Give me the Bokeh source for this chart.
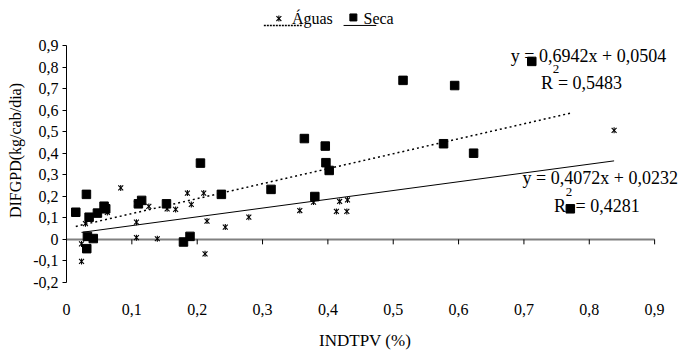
import numpy as np
from bokeh.plotting import figure
from bokeh.models import Range1d, FixedTicker, CustomJSTickFormatter, Label
from bokeh.layouts import column, row
from bokeh.core.properties import value
from bokeh.embed import file_html
from bokeh.resources import INLINE

# ---------------- data ----------------
aguas_x = [0.023, 0.023, 0.029, 0.0625, 0.083, 0.107, 0.107, 0.107, 0.126, 0.139,
           0.154, 0.167, 0.185, 0.191, 0.210, 0.212, 0.215, 0.243, 0.279, 0.357,
           0.378, 0.413, 0.418, 0.429, 0.430, 0.838]
aguas_y = [-0.102, -0.021, 0.073, 0.125, 0.239, 0.008, 0.080, 0.165, 0.153, 0.003,
           0.142, 0.139, 0.215, 0.162, 0.215, -0.067, 0.085, 0.057, 0.103, 0.134,
           0.173, 0.130, 0.176, 0.130, 0.183, 0.506]

seca_x = [0.0142, 0.0305, 0.0346, 0.0473, 0.0575, 0.060, 0.032, 0.041, 0.031, 0.110,
          0.115, 0.153, 0.179, 0.189, 0.205, 0.237, 0.313, 0.380, 0.364, 0.396,
          0.397, 0.402, 0.515, 0.594, 0.577, 0.623, 0.712, 0.771]
seca_y = [0.126, 0.209, 0.103, 0.122, 0.154, 0.142, 0.014, 0.004, -0.043, 0.165,
          0.181, 0.165, -0.012, 0.014, 0.354, 0.209, 0.232, 0.199, 0.468, 0.433,
          0.356, 0.320, 0.738, 0.714, 0.444, 0.400, 0.826, 0.142]

seca_slope, seca_intercept = 0.6942, 0.0504
aguas_slope, aguas_intercept = 0.4072, 0.0232
seca_eq = "y = 0,6942x + 0,0504"
seca_r2 = "= 0,5483"
aguas_eq = "y = 0,4072x + 0,0232"
aguas_r2 = "= 0,4281"

x_ticks = [0, 0.1, 0.2, 0.3, 0.4, 0.5, 0.6, 0.7, 0.8, 0.9]
x_tick_labels = ["0", "0,1", "0,2", "0,3", "0,4", "0,5", "0,6", "0,7", "0,8", "0,9"]
y_ticks = [-0.2, -0.1, 0, 0.1, 0.2, 0.3, 0.4, 0.5, 0.6, 0.7, 0.8, 0.9]
y_tick_labels = ["-0,2", "-0,1", "0", "0,1", "0,2", "0,3", "0,4", "0,5", "0,6", "0,7", "0,8", "0,9"]

legend_names = ["Águas", "Seca"]
x_title = "INDTPV (%)"
y_title = "DIFGPD(kg/cab/dia)"

FONT = "Liberation Serif"

fmt_code = """
let best = 0; let d = Infinity;
for (let i = 0; i < tvals.length; i++) {
  const e = Math.abs(tvals[i] - tick);
  if (e < d) { d = e; best = i; }
}
return tlabs[best];
"""


def strip(w, h):
    f = figure(width=w, height=h, x_range=Range1d(0, w), y_range=Range1d(0, h),
               toolbar_location=None, output_backend="svg",
               min_border_left=0, min_border_right=0, min_border_top=0, min_border_bottom=0)
    f.axis.visible = False
    f.grid.visible = False
    f.outline_line_color = None
    return f


# ---------------- left strip: y title ----------------
ls = strip(30, 350)
ls.text([15], [200], text=[y_title], angle=np.pi / 2, text_font=value(FONT), text_font_size="16px",
        text_baseline="middle", text_align="center", text_color="black")

# ---------------- main plot ----------------
p = figure(width=653, height=332, x_range=Range1d(0, 0.9442), y_range=Range1d(-0.2, 1.1086),
           toolbar_location=None, output_backend="svg",
           min_border_left=34, min_border_right=0, min_border_top=0, min_border_bottom=50)
p.grid.visible = False
p.outline_line_color = None
p.background_fill_color = "white"

# y axis
p.yaxis.ticker = FixedTicker(ticks=y_ticks)
p.yaxis.bounds = (-0.2, 0.9)
p.yaxis.formatter = CustomJSTickFormatter(args=dict(tvals=y_ticks, tlabs=y_tick_labels), code=fmt_code)
p.yaxis.minor_tick_line_color = None
p.yaxis.major_tick_in = 0
p.yaxis.major_tick_out = 4
p.yaxis.major_label_standoff = 4
p.yaxis.axis_line_color = "black"
p.yaxis.major_tick_line_color = "black"
p.yaxis.major_label_text_font = FONT
p.yaxis.major_label_text_font_size = "16px"
p.yaxis.major_label_text_color = "black"

# x axis (labels only, low)
p.xaxis.ticker = FixedTicker(ticks=x_ticks)
p.xaxis.formatter = CustomJSTickFormatter(args=dict(tvals=x_ticks, tlabs=x_tick_labels), code=fmt_code)
p.xaxis.axis_line_color = None
p.xaxis.major_tick_line_color = None
p.xaxis.minor_tick_line_color = None
p.xaxis.major_label_standoff = 15
p.xaxis.major_label_text_font = FONT
p.xaxis.major_label_text_font_size = "16px"
p.xaxis.major_label_text_color = "black"

# zero line with ticks
p.line([x_ticks[0], x_ticks[-1]], [0, 0], line_color="#808080", line_width=2)
p.segment(x0=x_ticks[1:], y0=[0] * (len(x_ticks) - 1), x1=x_ticks[1:], y1=[-0.023] * (len(x_ticks) - 1),
          line_color="black", line_width=1)

# legend (drawn inside the top of the frame)
p.scatter([0.325], [1.025], marker="x", size=7, line_color="black", line_width=1.1)
p.scatter([0.325], [1.025], marker="dash", angle=np.pi / 2, size=6, line_color="black", line_width=1.1)
p.scatter([0.439], [1.030], marker="square", size=7, fill_color="black", line_color="black")
p.text([0.345, 0.4545], [1.025, 1.025], text=legend_names, text_font=value(FONT), text_font_size="16px",
       text_baseline="middle", text_align="left", text_color="black")
p.line([0.302, 0.360], [0.9928, 0.9928], line_color="black", line_width=1.5, line_dash="2 1")
p.line([0.424, 0.474], [0.9928, 0.9928], line_color="black", line_width=1)

# equation labels (under markers)
def lab(x, y, t, size="18px", level="underlay"):
    p.add_layout(Label(x=x, y=y, text=t, text_font=FONT, text_font_size=size,
                       text_baseline="middle", text_align="left", text_color="black", level=level))

lab(0.680, 0.853, seca_eq)
lab(0.726, 0.724, "R")
lab(0.744, 0.793, "2", size="13px")
lab(0.752, 0.724, seca_r2)
lab(0.698, 0.287, aguas_eq)
lab(0.746, 0.157, "R")
lab(0.764, 0.218, "2", size="13px")
lab(0.779, 0.157, aguas_r2)

# trend lines
sx = np.array([min(seca_x), max(seca_x)])
ax_ = np.array([min(aguas_x), max(aguas_x)])
p.line(sx, seca_slope * sx + seca_intercept, line_color="black", line_width=1.5, line_dash="2 3")
p.line(ax_, aguas_slope * ax_ + aguas_intercept, line_color="black", line_width=1)

# points
p.scatter(seca_x, seca_y, marker="square", size=8.5, fill_color="black", line_color="black")
p.scatter(aguas_x, aguas_y, marker="x", size=7, line_color="black", line_width=1.1)
p.scatter(aguas_x, aguas_y, marker="dash", angle=np.pi / 2, size=6, line_color="black", line_width=1.1)

# ---------------- bottom strip: x title ----------------
bs = strip(653, 18)
bs.text([316], [10], text=[x_title], text_font=value(FONT), text_font_size="17px",
        text_baseline="middle", text_align="center", text_color="black")

layout = row(ls, column(p, bs, spacing=0), spacing=0)
open("out.html", "w").write(file_html(layout, INLINE))
